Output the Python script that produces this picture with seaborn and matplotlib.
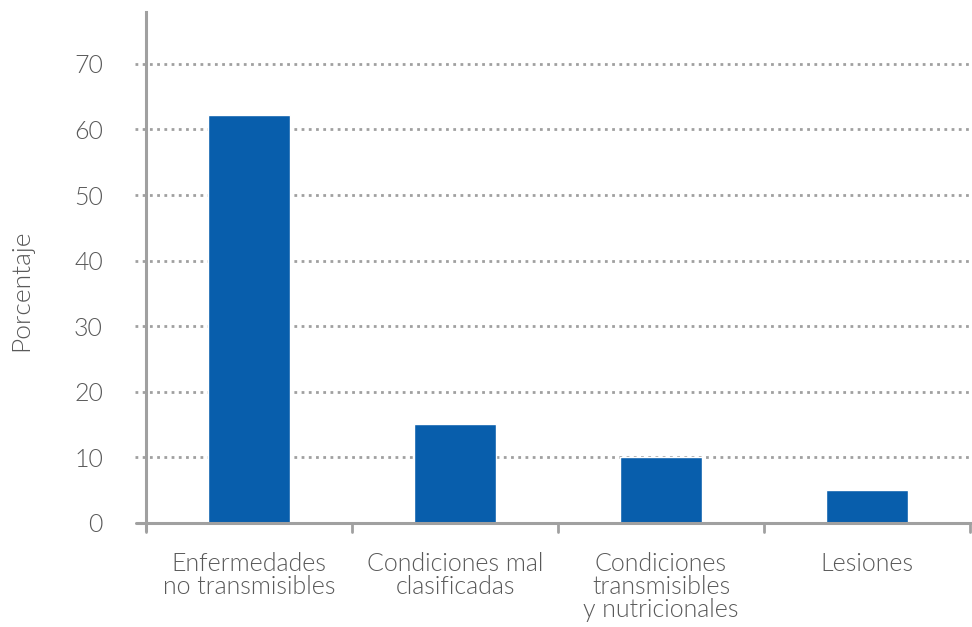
import matplotlib
matplotlib.use("Agg")
import matplotlib.pyplot as plt
import seaborn as sns
import pandas as pd

categories = ["Enfermedades\nno transmisibles", "Condiciones mal\nclasificadas",
              "Condiciones\ntransmisibles\ny nutricionales", "Lesiones"]
values = [62.2, 15.1, 10.0, 5.0]
y_ticks = [0, 10, 20, 30, 40, 50, 60, 70]

df = pd.DataFrame({"categoria": categories, "porcentaje": values})

sns.set_style("white")
plt.rcParams["font.family"] = ["Lato", "DejaVu Sans"]
plt.rcParams["font.weight"] = 300
plt.rcParams["axes.labelweight"] = 300

text_color = "#595959"
axis_color = "#A0A0A0"
bar_color = "#085EAC"

fig = plt.figure(figsize=(9.72, 6.27), dpi=100)
ax = fig.add_axes([146 / 972, 1 - 523 / 627, 824 / 972, 511 / 627])

sns.barplot(data=df, x="categoria", y="porcentaje", color=bar_color,
            width=0.4, saturation=1, ax=ax, zorder=3)

ax.set_xlim(-0.5, 3.5)
ax.set_ylim(0, 77.9)
ax.set_yticks(y_ticks)
ax.set_yticklabels([str(t) for t in y_ticks])

# dotted horizontal grid lines, reaching slightly left of the spine
for t in y_ticks[1:]:
    ax.axhline(t, xmin=-0.013, xmax=1, color=axis_color, lw=2,
               linestyle=(0, (1, 1.6)), clip_on=False, zorder=1)

for side in ["top", "right"]:
    ax.spines[side].set_visible(False)
ax.spines["left"].set_color(axis_color)
ax.spines["left"].set_linewidth(2.2)
ax.spines["left"].set_bounds(-1.1, 77.9)
ax.spines["bottom"].set_visible(False)
ax.axhline(0, xmin=-0.012, xmax=1.003, color=axis_color, lw=2.2,
           clip_on=False, zorder=4)

# category boundary ticks below the axis
for xb in [-0.5, 0.5, 1.5, 2.5, 3.5]:
    ax.plot([xb, xb], [0, -1.3], color=axis_color, lw=2, clip_on=False, zorder=4)

ax.tick_params(axis="y", length=0, pad=31, labelsize=18, labelcolor=text_color)
ax.tick_params(axis="x", length=0, pad=21, labelsize=18, labelcolor=text_color)
for lab in ax.get_xticklabels() + ax.get_yticklabels():
    lab.set_fontweight(300)
for lab in ax.get_xticklabels():
    lab.set_linespacing(0.95)
    lab.set_horizontalalignment("center")

ax.set_xlabel("")
ax.set_ylabel("Porcentaje", fontsize=19, color=text_color, fontweight=300)
ax.yaxis.set_label_coords(-0.137, 0.455)

fig.savefig("out.png", dpi=100)
